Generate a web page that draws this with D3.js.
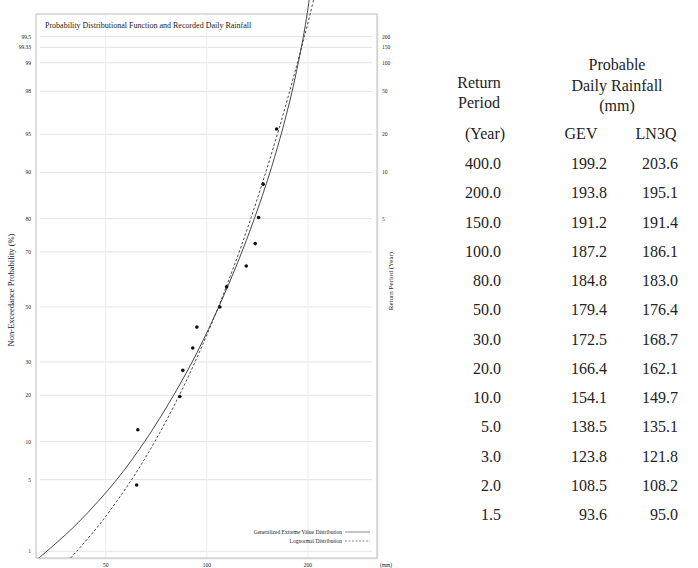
<!DOCTYPE html>
<html>
<head>
<meta charset="utf-8">
<script src="https://cdn.jsdelivr.net/npm/d3@7"></script>
<style>
  body { margin: 0; background: #fff; }
  text { font-family: "Liberation Serif", "DejaVu Serif", serif; fill: #222; }
</style>
</head>
<body>
<div id="chart"></div>
<script>
// ---- data ----
// table: return period (year) and probable daily rainfall (mm)
const returnPeriods = [400.0, 200.0, 150.0, 100.0, 80.0, 50.0, 30.0, 20.0, 10.0, 5.0, 3.0, 2.0, 1.5];
const gevValues     = [199.2, 193.8, 191.2, 187.2, 184.8, 179.4, 172.5, 166.4, 154.1, 138.5, 123.8, 108.5, 93.6];
const ln3qValues    = [203.6, 195.1, 191.4, 186.1, 183.0, 176.4, 168.7, 162.1, 149.7, 135.1, 121.8, 108.2, 95.0];

// lower tail / top end of the curves (non-exceedance %, mm)
const tailProb = [0.84, 1, 2, 5, 10, 20];
const gevTail  = [31.6, 33.4, 41.4, 53.9, 65.3, 79.6];
const ln3qTail = [39.3, 41.0, 48.4, 59.7, 70.0, 82.8];
const topProb  = 99.83;
const gevTop   = 201.7;
const ln3qTop  = 207.9;

// recorded daily rainfall (mm) and plotting position (%)
const obsRain = [61.8, 62.3, 83.1, 84.8, 90.8, 93.4, 109.3, 114.5, 131.0, 139.3, 142.6, 147.1, 161.3];
const obsProb = [4.5, 12.1, 19.7, 27.3, 34.8, 42.4, 50.0, 57.6, 65.2, 72.7, 80.3, 87.9, 95.5];

// axis ticks
const probTicks   = [1, 5, 10, 20, 30, 50, 70, 80, 90, 95, 98, 99, 99.33, 99.5];
const periodTicks = [5, 10, 20, 50, 100, 150, 200];
const rainTicks   = [50, 100, 200];

// ---- layout ----
const width = 698, height = 568;
const plot = {left: 36, right: 377, top: 14, bottom: 558};

// inverse of the standard normal cdf (Acklam)
function qnorm(p) {
  const a = [-39.6968302866538, 220.946098424521, -275.928510446969, 138.357751867269, -30.6647980661472, 2.50662827745924];
  const b = [-54.4760987982241, 161.585836858041, -155.698979859887, 66.8013118877197, -13.2806815528857];
  const c = [-0.00778489400243029, -0.322396458041136, -2.40075827716184, -2.54973253934373, 4.37466414146497, 2.93816398269878];
  const d = [0.00778469570904146, 0.32246712907004, 2.445134137143, 3.75440866190742];
  const pl = 0.02425;
  let q, r;
  if (p < pl) {
    q = Math.sqrt(-2 * Math.log(p));
    return (((((c[0]*q+c[1])*q+c[2])*q+c[3])*q+c[4])*q+c[5]) / ((((d[0]*q+d[1])*q+d[2])*q+d[3])*q+1);
  } else if (p <= 1 - pl) {
    q = p - 0.5; r = q * q;
    return (((((a[0]*r+a[1])*r+a[2])*r+a[3])*r+a[4])*r+a[5])*q / (((((b[0]*r+b[1])*r+b[2])*r+b[3])*r+b[4])*r+1);
  } else {
    q = Math.sqrt(-2 * Math.log(1 - p));
    return -(((((c[0]*q+c[1])*q+c[2])*q+c[3])*q+c[4])*q+c[5]) / ((((d[0]*q+d[1])*q+d[2])*q+d[3])*q+1);
  }
}

const xscale = d3.scaleLog()
  .domain([31, 321])
  .range([plot.left, plot.right]);

// normal probability paper: linear in z
const zscale = d3.scaleLinear()
  .domain([qnorm(0.0084), qnorm(0.99737)])
  .range([plot.bottom, plot.top]);
const yscale = pct => zscale(qnorm(pct / 100));

const svg = d3.select("#chart").append("svg")
  .attr("width", width)
  .attr("height", height);

// plot frame
svg.append("rect")
  .attr("x", plot.left + 1.5).attr("y", plot.top + 1.5)
  .attr("width", plot.right - plot.left).attr("height", plot.bottom - plot.top)
  .attr("fill", "#ececec");
svg.append("rect")
  .attr("x", plot.left).attr("y", plot.top)
  .attr("width", plot.right - plot.left).attr("height", plot.bottom - plot.top)
  .attr("fill", "#fff")
  .attr("stroke", "#bdbdbd")
  .attr("stroke-width", 1);

// grid
svg.append("g")
  .selectAll("line")
  .data(probTicks)
  .join("line")
  .attr("x1", plot.left + 4).attr("x2", plot.right - 5)
  .attr("y1", d => yscale(d)).attr("y2", d => yscale(d))
  .attr("stroke", "#e2e2e2");

svg.append("g")
  .selectAll("line")
  .data(rainTicks)
  .join("line")
  .attr("x1", d => xscale(d)).attr("x2", d => xscale(d))
  .attr("y1", plot.top + 1).attr("y2", plot.bottom - 1)
  .attr("stroke", "#ececec");

// tick labels
svg.append("g")
  .selectAll("text")
  .data(probTicks)
  .join("text")
  .attr("x", plot.left - 5)
  .attr("y", d => yscale(d) + 2)
  .attr("text-anchor", "end")
  .attr("font-size", 5.5)
  .text(d => d);

svg.append("g")
  .selectAll("text")
  .data(periodTicks)
  .join("text")
  .attr("x", plot.right + 5)
  .attr("y", d => yscale(100 - 100 / d) + 2)
  .attr("font-size", 5.5)
  .text(d => d);

svg.append("g")
  .selectAll("text")
  .data(rainTicks)
  .join("text")
  .attr("x", d => xscale(d))
  .attr("y", plot.bottom + 9)
  .attr("text-anchor", "middle")
  .attr("font-size", 5.5)
  .text(d => d);

svg.append("text")
  .attr("x", plot.right + 9).attr("y", plot.bottom + 9)
  .attr("text-anchor", "middle")
  .attr("font-size", 5.5)
  .text("(mm)");

// axis titles
svg.append("text")
  .attr("transform", "translate(14, 290) rotate(-90)")
  .attr("text-anchor", "middle")
  .attr("font-size", 8.5)
  .text("Non-Exceedance Probability (%)");

svg.append("text")
  .attr("transform", `translate(${plot.right + 16}, 281) rotate(-90)`)
  .attr("text-anchor", "middle")
  .attr("font-size", 7)
  .text("Return Period (Year)");

// chart title
svg.append("text")
  .attr("x", plot.left + 9).attr("y", plot.top + 14)
  .attr("font-size", 8)
  .text("Probability Distributional Function and Recorded Daily Rainfall");

// ---- curves ----
const tablePts = (vals) => returnPeriods.map((t, i) => ({p: 100 - 100 / t, v: vals[i]}));
const gevCurve = tailProb.map((p, i) => ({p, v: gevTail[i]}))
  .concat(tablePts(gevValues).reverse(), [{p: topProb, v: gevTop}]);
const lnCurve = tailProb.map((p, i) => ({p, v: ln3qTail[i]}))
  .concat(tablePts(ln3qValues).reverse(), [{p: topProb, v: ln3qTop}]);

const line = d3.line()
  .curve(d3.curveCatmullRom.alpha(0.5))
  .x(d => xscale(d.v))
  .y(d => yscale(d.p));

svg.append("path")
  .datum(gevCurve)
  .attr("d", line)
  .attr("fill", "none")
  .attr("stroke", "#333")
  .attr("stroke-width", 0.9);

svg.append("path")
  .datum(lnCurve)
  .attr("d", line)
  .attr("fill", "none")
  .attr("stroke", "#333")
  .attr("stroke-width", 0.9)
  .attr("stroke-dasharray", "2.5,2");

// recorded points
svg.append("g")
  .attr("fill", "#111")
  .selectAll("circle")
  .data(obsRain.map((v, i) => ({v, p: obsProb[i]})))
  .join("circle")
  .attr("cx", d => xscale(d.v))
  .attr("cy", d => yscale(d.p))
  .attr("r", 1.8);

// legend
const legend = svg.append("g");
const legendItems = [
  {label: "Generalized Extreme Value Distribution", dash: null},
  {label: "Lognormal Distribution", dash: "2,1.5"}
];
legendItems.forEach((item, i) => {
  const y = 532 + i * 9;
  legend.append("text")
    .attr("x", 342).attr("y", y + 2)
    .attr("text-anchor", "end")
    .attr("font-size", 5.5)
    .text(item.label);
  legend.append("line")
    .attr("x1", 345).attr("x2", 370)
    .attr("y1", y).attr("y2", y)
    .attr("stroke", "#555")
    .attr("stroke-width", 0.7)
    .attr("stroke-dasharray", item.dash);
});

// ---- table ----
const table = svg.append("g").attr("font-size", 16);
const colRP = 501, colGEV = 607, colLN = 678;

[["Return", 479, 88], ["Period", 479, 108],
 ["Probable", 617, 70], ["Daily Rainfall", 617, 91], ["(mm)", 617, 111],
 ["(Year)", 485, 139], ["GEV", 581, 139], ["LN3Q", 656, 139]]
  .forEach(([t, x, y]) => {
    table.append("text").attr("x", x).attr("y", y)
      .attr("text-anchor", "middle").text(t);
  });

const rowY = i => 169 + i * 29.25;
returnPeriods.forEach((t, i) => {
  table.append("text").attr("x", colRP).attr("y", rowY(i))
    .attr("text-anchor", "end").text(t.toFixed(1));
  table.append("text").attr("x", colGEV).attr("y", rowY(i))
    .attr("text-anchor", "end").text(gevValues[i].toFixed(1));
  table.append("text").attr("x", colLN).attr("y", rowY(i))
    .attr("text-anchor", "end").text(ln3qValues[i].toFixed(1));
});
</script>
</body>
</html>
